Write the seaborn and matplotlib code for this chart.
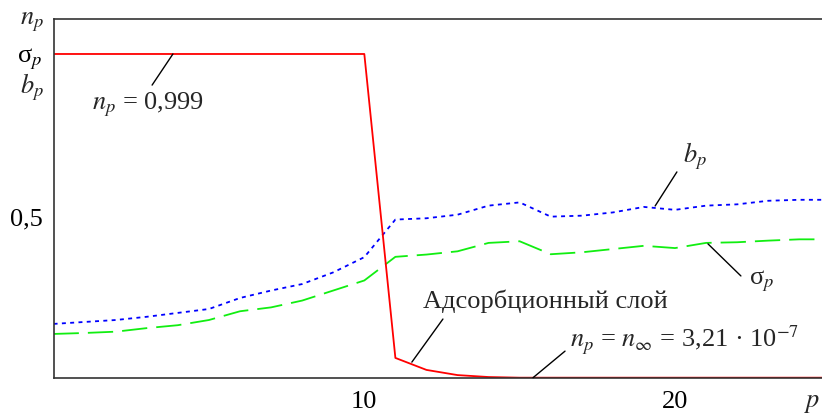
import numpy as np
import pandas as pd
import matplotlib
matplotlib.use("Agg")
import matplotlib.pyplot as plt
import seaborn as sns

p = list(range(0, 26))
n_p = [0.999] * 11 + [0.061, 0.024, 0.008, 0.002] + [3.21e-7] * 11
b_p = [0.166, 0.172, 0.178, 0.188, 0.200, 0.212, 0.246, 0.269, 0.289, 0.325, 0.372,
       0.488, 0.492, 0.503, 0.531, 0.541, 0.497, 0.500, 0.510, 0.527, 0.518,
       0.531, 0.535, 0.546, 0.549, 0.549]
sigma_p = [0.135, 0.138, 0.142, 0.153, 0.162, 0.178, 0.205, 0.217, 0.238, 0.269, 0.300,
           0.373, 0.380, 0.390, 0.416, 0.421, 0.381, 0.387, 0.397, 0.407, 0.400,
           0.416, 0.418, 0.423, 0.427, 0.427]

xticks = [10, 20]
xticklabels = ["10", "20"]
yticks = [0.5, 1.0]
yticklabels = ["0,5", r"σ$_p$"]

sns.set_style("white")
plt.rcParams["font.family"] = ["Liberation Serif", "DejaVu Serif"]
plt.rcParams["mathtext.fontset"] = "stix"

FS = 19
fig = plt.figure(figsize=(8.22, 4.14), dpi=100)
ax = fig.add_axes([0.0652, 0.0853, 0.9348, 0.8664])

df = pd.DataFrame({"p": p, "n": n_p, "b": b_p, "s": sigma_p})
sns.lineplot(data=df, x="p", y="b", ax=ax, color="#0000ff", lw=1.3)
ax.lines[-1].set_dashes([2.2, 2.4])
sns.lineplot(data=df, x="p", y="s", ax=ax, color="#11ee11", lw=1.3)
ax.lines[-1].set_dashes([14, 5])
sns.lineplot(data=df, x="p", y="n", ax=ax, color="#ff0000", lw=1.3)

ax.set_xlim(0, 24.73)
ax.set_ylim(0, 1.107)
ax.set_xlabel("")
ax.set_ylabel("")
ax.set_xticks(xticks)
ax.set_xticklabels(xticklabels, fontsize=FS)
ax.set_yticks(yticks)
ax.set_yticklabels(yticklabels, fontsize=FS)
ax.tick_params(direction="in", length=7, width=1, colors="#222222",
               labelcolor="black")
ax.tick_params(axis="x", pad=9)
ax.tick_params(axis="y", pad=8)
for side in ["left", "bottom", "top"]:
    ax.spines[side].set_color("#333333")
    ax.spines[side].set_linewidth(1.2)
ax.spines["right"].set_visible(False)

# extra axis labels
ax.text(-0.013, 1.10, r"$n_p$", transform=ax.get_yaxis_transform(), ha="right",
        va="center", fontsize=FS)
ax.text(-0.013, 0.90, r"$b_p$", transform=ax.get_yaxis_transform(), ha="right",
        va="center", fontsize=FS)
ax.text(0.9985, -0.07, r"$p$", transform=ax.transAxes, ha="right", va="center",
        fontsize=FS, clip_on=False)

lp = dict(arrowstyle="-", color="black", lw=1.0, shrinkA=0, shrinkB=0)
ax.annotate("", xy=(3.84, 0.999), xytext=(3.17, 0.903), arrowprops=lp)
ax.text(3.04, 0.845, r"$n_p$ = 0,999", ha="center", va="center", fontsize=FS)

ax.annotate("", xy=(19.36, 0.530), xytext=(20.06, 0.635), arrowprops=lp)
ax.text(20.65, 0.685, r"$b_p$", ha="center", va="center", fontsize=FS)

ax.annotate("", xy=(21.06, 0.413), xytext=(22.12, 0.314), arrowprops=lp)
ax.text(22.8, 0.300, r"σ$_p$", ha="center", va="center", fontsize=FS)

ax.annotate("", xy=(11.53, 0.048), xytext=(12.53, 0.181), arrowprops=lp)
ax.text(15.83, 0.240, "Адсорбционный слой", ha="center", va="center", fontsize=FS)

ax.annotate("", xy=(15.43, 0.0), xytext=(16.46, 0.082), arrowprops=lp)
ax.text(20.3, 0.118, r"$n_p$ = $n_\infty$ = 3,21 · 10$^{-7}$", ha="center",
        va="center", fontsize=FS)

fig.savefig("out.png", dpi=100)
